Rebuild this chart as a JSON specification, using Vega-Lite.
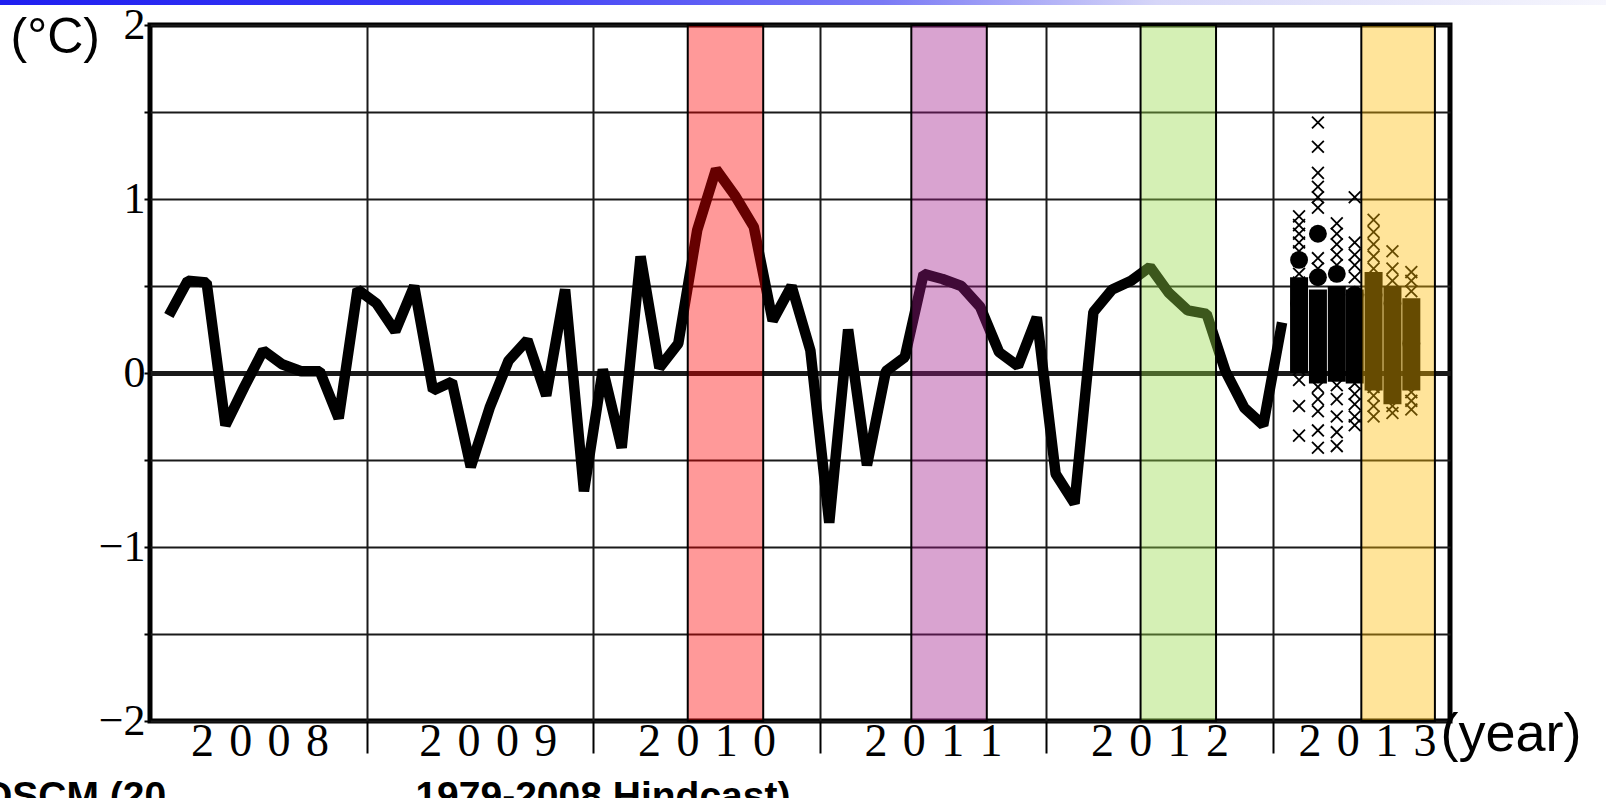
{
  "$schema": "https://vega.github.io/schema/vega-lite/v6.json",
  "width": 1300,
  "height": 696,
  "autosize": {"type": "none"},
  "padding": {"left": 150, "top": 25, "right": 156, "bottom": 77},
  "background": "white",
  "config": {
    "view": {"stroke": "black", "strokeWidth": 5},
    "axis": {"domain": false}
  },
  "title": {
    "text": "OSCM (20\u00a0\u00a0\u00a0\u00a0\u00a0\u00a0\u00a0\u00a0\u00a0\u00a0\u00a0\u00a0\u00a0\u00a0\u00a0\u00a0\u00a0\u00a0\u00a0\u00a0\u00a0\u00a0\u00a01979-2008 Hindcast)",
    "orient": "bottom",
    "anchor": "start",
    "frame": "group",
    "font": "Liberation Sans",
    "fontSize": 39,
    "fontWeight": "bold",
    "color": "black",
    "baseline": "top",
    "offset": 0,
    "dx": -168,
    "dy": 14
  },
  "datasets": {
    "obs": [
      {"t": 1, "v": 0.33}, {"t": 2, "v": 0.53}, {"t": 3, "v": 0.52}, {"t": 4, "v": -0.30},
      {"t": 5, "v": -0.08}, {"t": 6, "v": 0.13}, {"t": 7, "v": 0.05}, {"t": 8, "v": 0.01},
      {"t": 9, "v": 0.01}, {"t": 10, "v": -0.26}, {"t": 11, "v": 0.48}, {"t": 12, "v": 0.40},
      {"t": 13, "v": 0.24}, {"t": 14, "v": 0.50}, {"t": 15, "v": -0.10}, {"t": 16, "v": -0.05},
      {"t": 17, "v": -0.54}, {"t": 18, "v": -0.20}, {"t": 19, "v": 0.07}, {"t": 20, "v": 0.19},
      {"t": 21, "v": -0.13}, {"t": 22, "v": 0.48}, {"t": 23, "v": -0.68}, {"t": 24, "v": 0.02},
      {"t": 25, "v": -0.43}, {"t": 26, "v": 0.67}, {"t": 27, "v": 0.03}, {"t": 28, "v": 0.17},
      {"t": 29, "v": 0.82}, {"t": 30, "v": 1.17}, {"t": 31, "v": 1.02}, {"t": 32, "v": 0.84},
      {"t": 33, "v": 0.30}, {"t": 34, "v": 0.50}, {"t": 35, "v": 0.13}, {"t": 36, "v": -0.86},
      {"t": 37, "v": 0.25}, {"t": 38, "v": -0.53}, {"t": 39, "v": 0.01}, {"t": 40, "v": 0.09},
      {"t": 41, "v": 0.57}, {"t": 42, "v": 0.54}, {"t": 43, "v": 0.50}, {"t": 44, "v": 0.38},
      {"t": 45, "v": 0.12}, {"t": 46, "v": 0.04}, {"t": 47, "v": 0.32}, {"t": 48, "v": -0.58},
      {"t": 49, "v": -0.75}, {"t": 50, "v": 0.35}, {"t": 51, "v": 0.48}, {"t": 52, "v": 0.53},
      {"t": 53, "v": 0.61}, {"t": 54, "v": 0.46}, {"t": 55, "v": 0.36}, {"t": 56, "v": 0.34},
      {"t": 57, "v": 0.01}, {"t": 58, "v": -0.20}, {"t": 59, "v": -0.30}, {"t": 60, "v": 0.29}
    ],
    "bars": [
      {"t": 60.9, "lo": 0.0, "hi": 0.55},
      {"t": 61.9, "lo": -0.06, "hi": 0.48},
      {"t": 62.9, "lo": -0.05, "hi": 0.5},
      {"t": 63.85, "lo": -0.06, "hi": 0.48},
      {"t": 64.85, "lo": -0.1, "hi": 0.58},
      {"t": 65.85, "lo": -0.18, "hi": 0.5},
      {"t": 66.85, "lo": -0.1, "hi": 0.43}
    ],
    "dots": [
      {"t": 60.9, "v": 0.65}, {"t": 60.9, "v": 0.40}, {"t": 61.9, "v": 0.80}, {"t": 61.9, "v": 0.55},
      {"t": 62.9, "v": 0.57}, {"t": 63.85, "v": 0.45}, {"t": 64.85, "v": 0.45}, {"t": 65.85, "v": 0.40},
      {"t": 66.85, "v": 0.17}
    ],
    "members": [
      {"t": 60.9, "v": 0.90}, {"t": 60.9, "v": 0.85}, {"t": 60.9, "v": 0.80}, {"t": 60.9, "v": 0.75},
      {"t": 60.9, "v": 0.70}, {"t": 60.9, "v": 0.57}, {"t": 60.9, "v": 0.52}, {"t": 60.9, "v": 0.47},
      {"t": 60.9, "v": 0.31}, {"t": 60.9, "v": 0.21}, {"t": 60.9, "v": 0.11}, {"t": 60.9, "v": 0.02},
      {"t": 60.9, "v": -0.04}, {"t": 60.9, "v": -0.19}, {"t": 60.9, "v": -0.36},
      {"t": 61.9, "v": 1.44}, {"t": 61.9, "v": 1.30}, {"t": 61.9, "v": 1.15}, {"t": 61.9, "v": 1.07},
      {"t": 61.9, "v": 1.01}, {"t": 61.9, "v": 0.95}, {"t": 61.9, "v": 0.66}, {"t": 61.9, "v": 0.60},
      {"t": 61.9, "v": 0.34}, {"t": 61.9, "v": 0.22}, {"t": 61.9, "v": 0.10}, {"t": 61.9, "v": -0.08},
      {"t": 61.9, "v": -0.15}, {"t": 61.9, "v": -0.22}, {"t": 61.9, "v": -0.33}, {"t": 61.9, "v": -0.43},
      {"t": 62.9, "v": 0.86}, {"t": 62.9, "v": 0.80}, {"t": 62.9, "v": 0.74}, {"t": 62.9, "v": 0.68},
      {"t": 62.9, "v": 0.62}, {"t": 62.9, "v": 0.42}, {"t": 62.9, "v": 0.30}, {"t": 62.9, "v": 0.18},
      {"t": 62.9, "v": 0.06}, {"t": 62.9, "v": -0.07}, {"t": 62.9, "v": -0.15}, {"t": 62.9, "v": -0.25},
      {"t": 62.9, "v": -0.34}, {"t": 62.9, "v": -0.42},
      {"t": 63.85, "v": 1.01}, {"t": 63.85, "v": 0.75}, {"t": 63.85, "v": 0.68}, {"t": 63.85, "v": 0.62},
      {"t": 63.85, "v": 0.55}, {"t": 63.85, "v": 0.36}, {"t": 63.85, "v": 0.24}, {"t": 63.85, "v": 0.12},
      {"t": 63.85, "v": -0.06}, {"t": 63.85, "v": -0.12}, {"t": 63.85, "v": -0.18}, {"t": 63.85, "v": -0.25},
      {"t": 63.85, "v": -0.30},
      {"t": 64.85, "v": 0.88}, {"t": 64.85, "v": 0.81}, {"t": 64.85, "v": 0.74}, {"t": 64.85, "v": 0.67},
      {"t": 64.85, "v": 0.60}, {"t": 64.85, "v": 0.34}, {"t": 64.85, "v": 0.22}, {"t": 64.85, "v": 0.10},
      {"t": 64.85, "v": -0.08}, {"t": 64.85, "v": -0.13}, {"t": 64.85, "v": -0.19}, {"t": 64.85, "v": -0.25},
      {"t": 65.85, "v": 0.70}, {"t": 65.85, "v": 0.60}, {"t": 65.85, "v": 0.53}, {"t": 65.85, "v": 0.35},
      {"t": 65.85, "v": 0.23}, {"t": 65.85, "v": 0.11}, {"t": 65.85, "v": -0.07}, {"t": 65.85, "v": -0.13},
      {"t": 65.85, "v": -0.19}, {"t": 65.85, "v": -0.23},
      {"t": 66.85, "v": 0.58}, {"t": 66.85, "v": 0.53}, {"t": 66.85, "v": 0.47}, {"t": 66.85, "v": 0.30},
      {"t": 66.85, "v": 0.18}, {"t": 66.85, "v": 0.06}, {"t": 66.85, "v": -0.11}, {"t": 66.85, "v": -0.16},
      {"t": 66.85, "v": -0.21}
    ],
    "bands": [
      {"period": "2010", "start": 28.5, "end": 32.5},
      {"period": "2011", "start": 40.35, "end": 44.35},
      {"period": "2012", "start": 52.5, "end": 56.5},
      {"period": "2013", "start": 64.2, "end": 68.1}
    ]
  },
  "layer": [
    {
      "data": {"name": "obs"},
      "mark": {"type": "line", "color": "black", "strokeWidth": 10.5, "strokeJoin": "bevel"},
      "encoding": {
        "x": {
          "field": "t", "type": "quantitative",
          "scale": {"domain": [0, 68.9], "nice": false, "zero": false},
          "axis": {
            "values": [5.8, 11.5, 17.9, 23.5, 29.5, 35.5, 41.5, 47.5, 53.5, 59.5, 64.5],
            "grid": true,
            "gridColor": "#1a1a1a",
            "gridWidth": 2,
            "gridOpacity": {"condition": {"test": "(datum.value + 0.5) % 12 == 0", "value": 1}, "value": 0},
            "ticks": true,
            "tickSize": 32,
            "tickWidth": 2,
            "tickColor": "black",
            "tickOpacity": {"condition": {"test": "(datum.value + 0.5) % 12 == 0", "value": 1}, "value": 0},
            "labelExpr": "(datum.value + 0.5) % 12 == 0 ? '' : '2\u20040\u2004' + (floor(datum.value / 12) < 2 ? '0\u2004' + (8 + floor(datum.value / 12)) : '1\u2004' + (floor(datum.value / 12) - 2))",
            "labelFont": "Liberation Serif",
            "labelFontSize": 46,
            "labelColor": "black",
            "labelPadding": -34,
            "labelFlush": false,
            "labelOverlap": false,
            "title": "(year)",
            "titleX": 1290,
            "titleY": 29,
            "titleAlign": "left",
            "titleAnchor": null,
            "titleBaseline": "alphabetic",
            "titleFont": "Liberation Sans",
            "titleFontSize": 54,
            "titleFontWeight": "normal",
            "titleColor": "black"
          }
        },
        "y": {
          "field": "v", "type": "quantitative",
          "scale": {"domain": [-2, 2], "nice": false, "zero": false},
          "axis": {
            "values": [-2, -1.5, -1, -0.5, 0, 0.5, 1, 1.5, 2],
            "grid": true,
            "gridColor": "#1a1a1a",
            "gridWidth": {"condition": {"test": "datum.value == 0", "value": 5}, "value": 2},
            "tickSize": 6,
            "tickWidth": 2,
            "tickColor": "black",
            "labelExpr": "datum.value % 1 == 0 ? (datum.value < 0 ? '\u2212' + abs(datum.value) : '' + datum.value) : ''",
            "labelFont": "Liberation Serif",
            "labelFontSize": 44,
            "labelColor": "black",
            "labelPadding": -1,
            "labelFlush": false,
            "labelOverlap": false,
            "title": "(°C)",
            "titleAngle": 0,
            "titleAlign": "left",
            "titleAnchor": null,
            "titleBaseline": "alphabetic",
            "titleX": -140,
            "titleY": 27,
            "titleFont": "Liberation Sans",
            "titleFontSize": 50,
            "titleFontWeight": "normal",
            "titleColor": "black"
          }
        }
      }
    },
    {
      "data": {"name": "bars"},
      "mark": {"type": "rule", "color": "black", "strokeWidth": 18, "strokeCap": "butt"},
      "encoding": {
        "x": {"field": "t", "type": "quantitative"},
        "y": {"field": "lo", "type": "quantitative"},
        "y2": {"field": "hi"}
      }
    },
    {
      "data": {"name": "members"},
      "mark": {"type": "point", "shape": "M-1,-1L1,1M1,-1L-1,1", "filled": false, "stroke": "black", "strokeWidth": 1.8, "size": 140, "opacity": 1},
      "encoding": {
        "x": {"field": "t", "type": "quantitative"},
        "y": {"field": "v", "type": "quantitative"}
      }
    },
    {
      "data": {"name": "dots"},
      "mark": {"type": "circle", "color": "black", "size": 320, "opacity": 1},
      "encoding": {
        "x": {"field": "t", "type": "quantitative"},
        "y": {"field": "v", "type": "quantitative"}
      }
    },
    {
      "data": {"name": "bands"},
      "mark": {"type": "rect", "fillOpacity": 0.4, "stroke": "black", "strokeWidth": 2, "strokeOpacity": 1},
      "encoding": {
        "x": {"field": "start", "type": "quantitative"},
        "x2": {"field": "end"},
        "fill": {
          "field": "period", "type": "nominal",
          "scale": {"domain": ["2010", "2011", "2012", "2013"], "range": ["#ff0000", "#a0198a", "#96d946", "#ffbb02"]},
          "legend": null
        }
      }
    },
    {
      "data": {"values": [{}]},
      "mark": {
        "type": "rect",
        "fill": {
          "gradient": "linear", "x1": 0, "y1": 0, "x2": 1, "y2": 0,
          "stops": [
            {"offset": 0, "color": "#1f1ff0"},
            {"offset": 0.3, "color": "#3c3cf5"},
            {"offset": 0.55, "color": "#7a7af5"},
            {"offset": 0.72, "color": "#d6d6f8"},
            {"offset": 1, "color": "#f6f6fd"}
          ]
        }
      },
      "encoding": {
        "x": {"datum": -8.0},
        "x2": {"datum": 77.2},
        "y": {"datum": 2.144},
        "y2": {"datum": 2.115}
      }
    }
  ]
}
